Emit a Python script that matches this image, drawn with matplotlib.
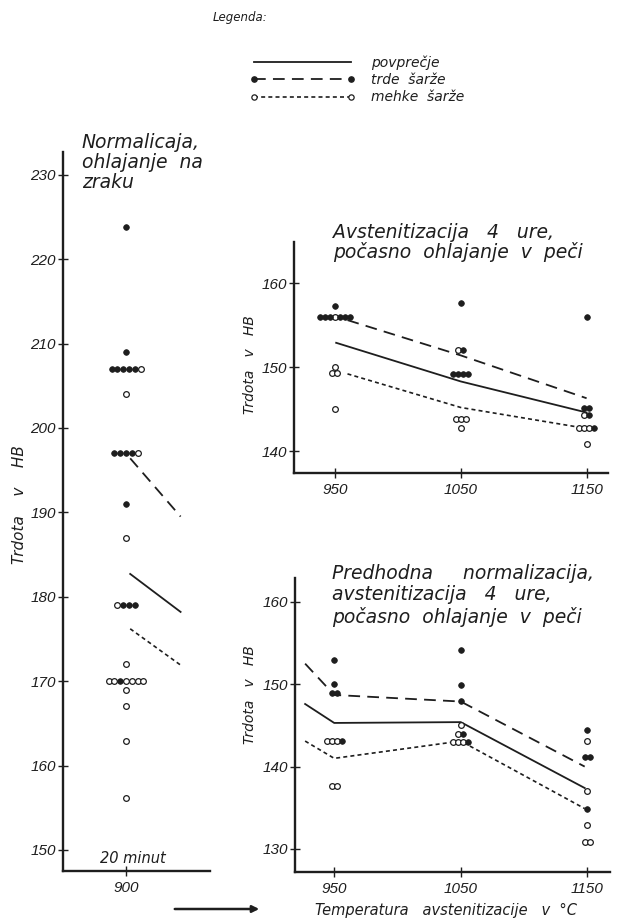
import matplotlib
matplotlib.use("Agg")
import matplotlib.pyplot as plt
from matplotlib.lines import Line2D
from matplotlib.patches import FancyArrowPatch
from matplotlib import font_manager

W, H = 626, 921
INK = "#1e1e1e"

plt.rcParams["font.family"] = ["DejaVu Sans"]
plt.rcParams["font.style"] = "italic"
names = {f.name for f in font_manager.fontManager.ttflist}
TICKFONT = "Liberation Sans Narrow" if "Liberation Sans Narrow" in names else "Liberation Sans"

# ---- data ----
# normalizacija, 20 minut, 900 C  (h = trde sarze, s = mehke sarze, one char per sample)
norm_t = [900] * 14
norm_hb = [223.8, 209, 207, 204, 197, 191, 187, 179, 172, 170, 168.9, 167, 162.9, 156.1]
norm_kind = ["h", "h", "hhhhhs", "s", "hhhhs", "h", "s", "shhh", "s", "sshssss", "s", "s", "s", "s"]
norm_line_t = [902, 926]
norm_avg = [182.7, 178.2]
norm_hard = [196.4, 189.5]
norm_soft = [176.2, 171.9]

# avstenitizacija 4 ure, pocasno ohlajanje
a4_t = [950, 950, 950, 950, 950,
        1050, 1050, 1050, 1050, 1050,
        1150, 1150, 1150, 1150, 1150]
a4_hb = [157.3, 156.0, 150.0, 149.3, 145.0,
         157.6, 152.1, 149.2, 143.8, 142.7,
         156.0, 145.1, 144.3, 142.7, 140.8]
a4_kind = ["h", "hhhshhh", "s", "ss", "s",
           "h", "sh", "hhhh", "sss", "s",
           "h", "hh", "sh", "sssh", "s"]
a4_avg_t = [951, 1050, 1150]
a4_avg = [152.9, 148.3, 144.6]
a4_side_t = [960, 1050, 1150]
a4_hard = [155.6, 151.4, 146.3]
a4_soft = [149.2, 145.2, 142.7]

# predhodna normalizacija + avstenitizacija 4 ure
pn_t = [950, 950, 950, 950, 950,
        1050, 1050, 1050, 1050, 1050, 1050,
        1150, 1150, 1150, 1150, 1150, 1150, 1150]
pn_hb = [152.9, 150.0, 148.9, 143.1, 137.7,
         154.1, 149.9, 148.0, 145.1, 144.0, 143.0,
         144.5, 143.1, 141.2, 137.0, 134.9, 132.9, 130.9]
pn_kind = ["h", "h", "hh", "sssh", "ss",
           "h", "h", "h", "s", "sh", "sssh",
           "h", "s", "hh", "s", "h", "s", "ss"]
pn_line_t = [927, 950, 1050, 1148]
pn_avg = [147.6, 145.3, 145.4, 137.4]
pn_hard = [152.5, 148.7, 147.9, 140.0]
pn_soft = [143.1, 141.0, 143.1, 134.9]

legend_labels = ["povprečje", "trde  šarže", "mehke  šarže"]

# ---- figure ----
fig = plt.figure(figsize=(W / 100, H / 100), dpi=100)


def box(x0, y0, x1, y1):
    return [x0 / W, 1 - y1 / H, (x1 - x0) / W, (y1 - y0) / H]


def fx(x):
    return x / W


def fy(y):
    return 1 - y / H


ax1 = fig.add_axes(box(63, 152, 210, 871))
ax2 = fig.add_axes(box(294, 242, 608, 473))
ax3 = fig.add_axes(box(295, 578, 610, 872))

ax1.set_xlim(870, 940)
ax1.set_ylim(147.5, 232.7)
ax1.set_xticks([900])
ax1.set_yticks(range(150, 231, 10))
ax2.set_xlim(917.5, 1167)
ax2.set_ylim(137.4, 164.9)
ax2.set_xticks([950, 1050, 1150])
ax2.set_yticks([140, 150, 160])
ax3.set_xlim(919, 1168)
ax3.set_ylim(127.2, 162.9)
ax3.set_xticks([950, 1050, 1150])
ax3.set_yticks([130, 140, 150, 160])

for ax in (ax1, ax2, ax3):
    for s in ("top", "right"):
        ax.spines[s].set_visible(False)
    for s in ("left", "bottom"):
        ax.spines[s].set_linewidth(1.7)
        ax.spines[s].set_color(INK)
    ax.tick_params(direction="inout", length=7, width=1.0, colors=INK,
                   labelsize=11, pad=1.5, labelfontfamily=TICKFONT)
    ax.tick_params(axis="x", pad=4)


def dots(ax, temps, hbs, kinds, step_px=5.8):
    step = step_px * (ax.get_xlim()[1] - ax.get_xlim()[0]) / ax.bbox.width
    hx, hy, sx, sy = [], [], [], []
    for t, hb, k in zip(temps, hbs, kinds):
        n = len(k)
        for i, c in enumerate(k):
            x = t + (i - (n - 1) / 2) * step
            if c == "h":
                hx.append(x)
                hy.append(hb)
            else:
                sx.append(x)
                sy.append(hb)
    ax.plot(sx, sy, "o", ms=4.1, mfc="white", mec=INK, mew=0.9, ls="none", zorder=3)
    ax.plot(hx, hy, "o", ms=4.1, mfc=INK, mec=INK, mew=0.5, ls="none", zorder=4)


DASH = (0, (6.5, 4.0))
DOT = (0, (2.4, 1.9))


def trend(ax, t_avg, avg, t_side, hard, soft):
    ax.plot(t_avg, avg, color=INK, lw=1.3, ls="-")
    ax.plot(t_side, hard, color=INK, lw=1.3, ls=DASH)
    ax.plot(t_side, soft, color=INK, lw=1.2, ls=DOT)


trend(ax1, norm_line_t, norm_avg, norm_line_t, norm_hard, norm_soft)
trend(ax2, a4_avg_t, a4_avg, a4_side_t, a4_hard, a4_soft)
trend(ax3, pn_line_t, pn_avg, pn_line_t, pn_hard, pn_soft)
dots(ax1, norm_t, norm_hb, norm_kind)
dots(ax2, a4_t, a4_hb, a4_kind, 5.0)
dots(ax3, pn_t, pn_hb, pn_kind, 5.0)

# titles and labels
fig.text(fx(82), fy(133), "Normalicaja,\nohlajanje  na\nzraku", fontsize=13.5,
         color=INK, va="top", ha="left", linespacing=1.07)
fig.text(fx(333), fy(223), "Avstenitizacija   4   ure,\npočasno  ohlajanje  v  peči",
         fontsize=13.5, color=INK, va="top", ha="left", linespacing=1.02)
fig.text(fx(332), fy(564), "Predhodna     normalizacija,\navstenitizacija   4   ure,\n"
         "počasno  ohlajanje  v  peči", fontsize=13.5, color=INK, va="top", ha="left",
         linespacing=1.15)
fig.text(fx(133), fy(858), "20 minut", fontsize=10.5, color=INK, ha="center", va="center")

fig.text(fx(20), fy(505), "Trdota    v    HB", fontsize=11, color=INK, rotation=90,
         ha="center", va="center")
fig.text(fx(250), fy(365), "Trdota   v   HB", fontsize=10, color=INK, rotation=90,
         ha="center", va="center")
fig.text(fx(250), fy(695), "Trdota   v   HB", fontsize=10, color=INK, rotation=90,
         ha="center", va="center")

fig.text(fx(315), fy(910), "Temperatura   avstenitizacije   v  °C", fontsize=10.5,
         color=INK, ha="left", va="center")
fig.add_artist(FancyArrowPatch((fx(172), fy(909)), (fx(262), fy(909)),
                               transform=fig.transFigure, arrowstyle="-|>",
                               mutation_scale=10, lw=1.8, color=INK))

# legend
fig.text(fx(213), fy(17), "Legenda:", fontsize=8.5, color=INK, ha="left", va="center")
handles = [
    Line2D([], [], color=INK, lw=1.3, ls="-"),
    Line2D([], [], color=INK, lw=1.3, ls=DASH, marker="o", ms=3.8, mfc=INK, mec=INK),
    Line2D([], [], color=INK, lw=1.2, ls=DOT, marker="o", ms=3.8, mfc="white", mec=INK,
           mew=0.9),
]
fig.legend(handles, legend_labels, loc="upper left", bbox_to_anchor=(fx(250), fy(55)),
           frameon=False, fontsize=10, handlelength=7.6, handletextpad=1.1,
           labelspacing=0.25, borderpad=0, borderaxespad=0, numpoints=2,
           labelcolor=INK)

fig.savefig("out.png", dpi=100, facecolor="white")
